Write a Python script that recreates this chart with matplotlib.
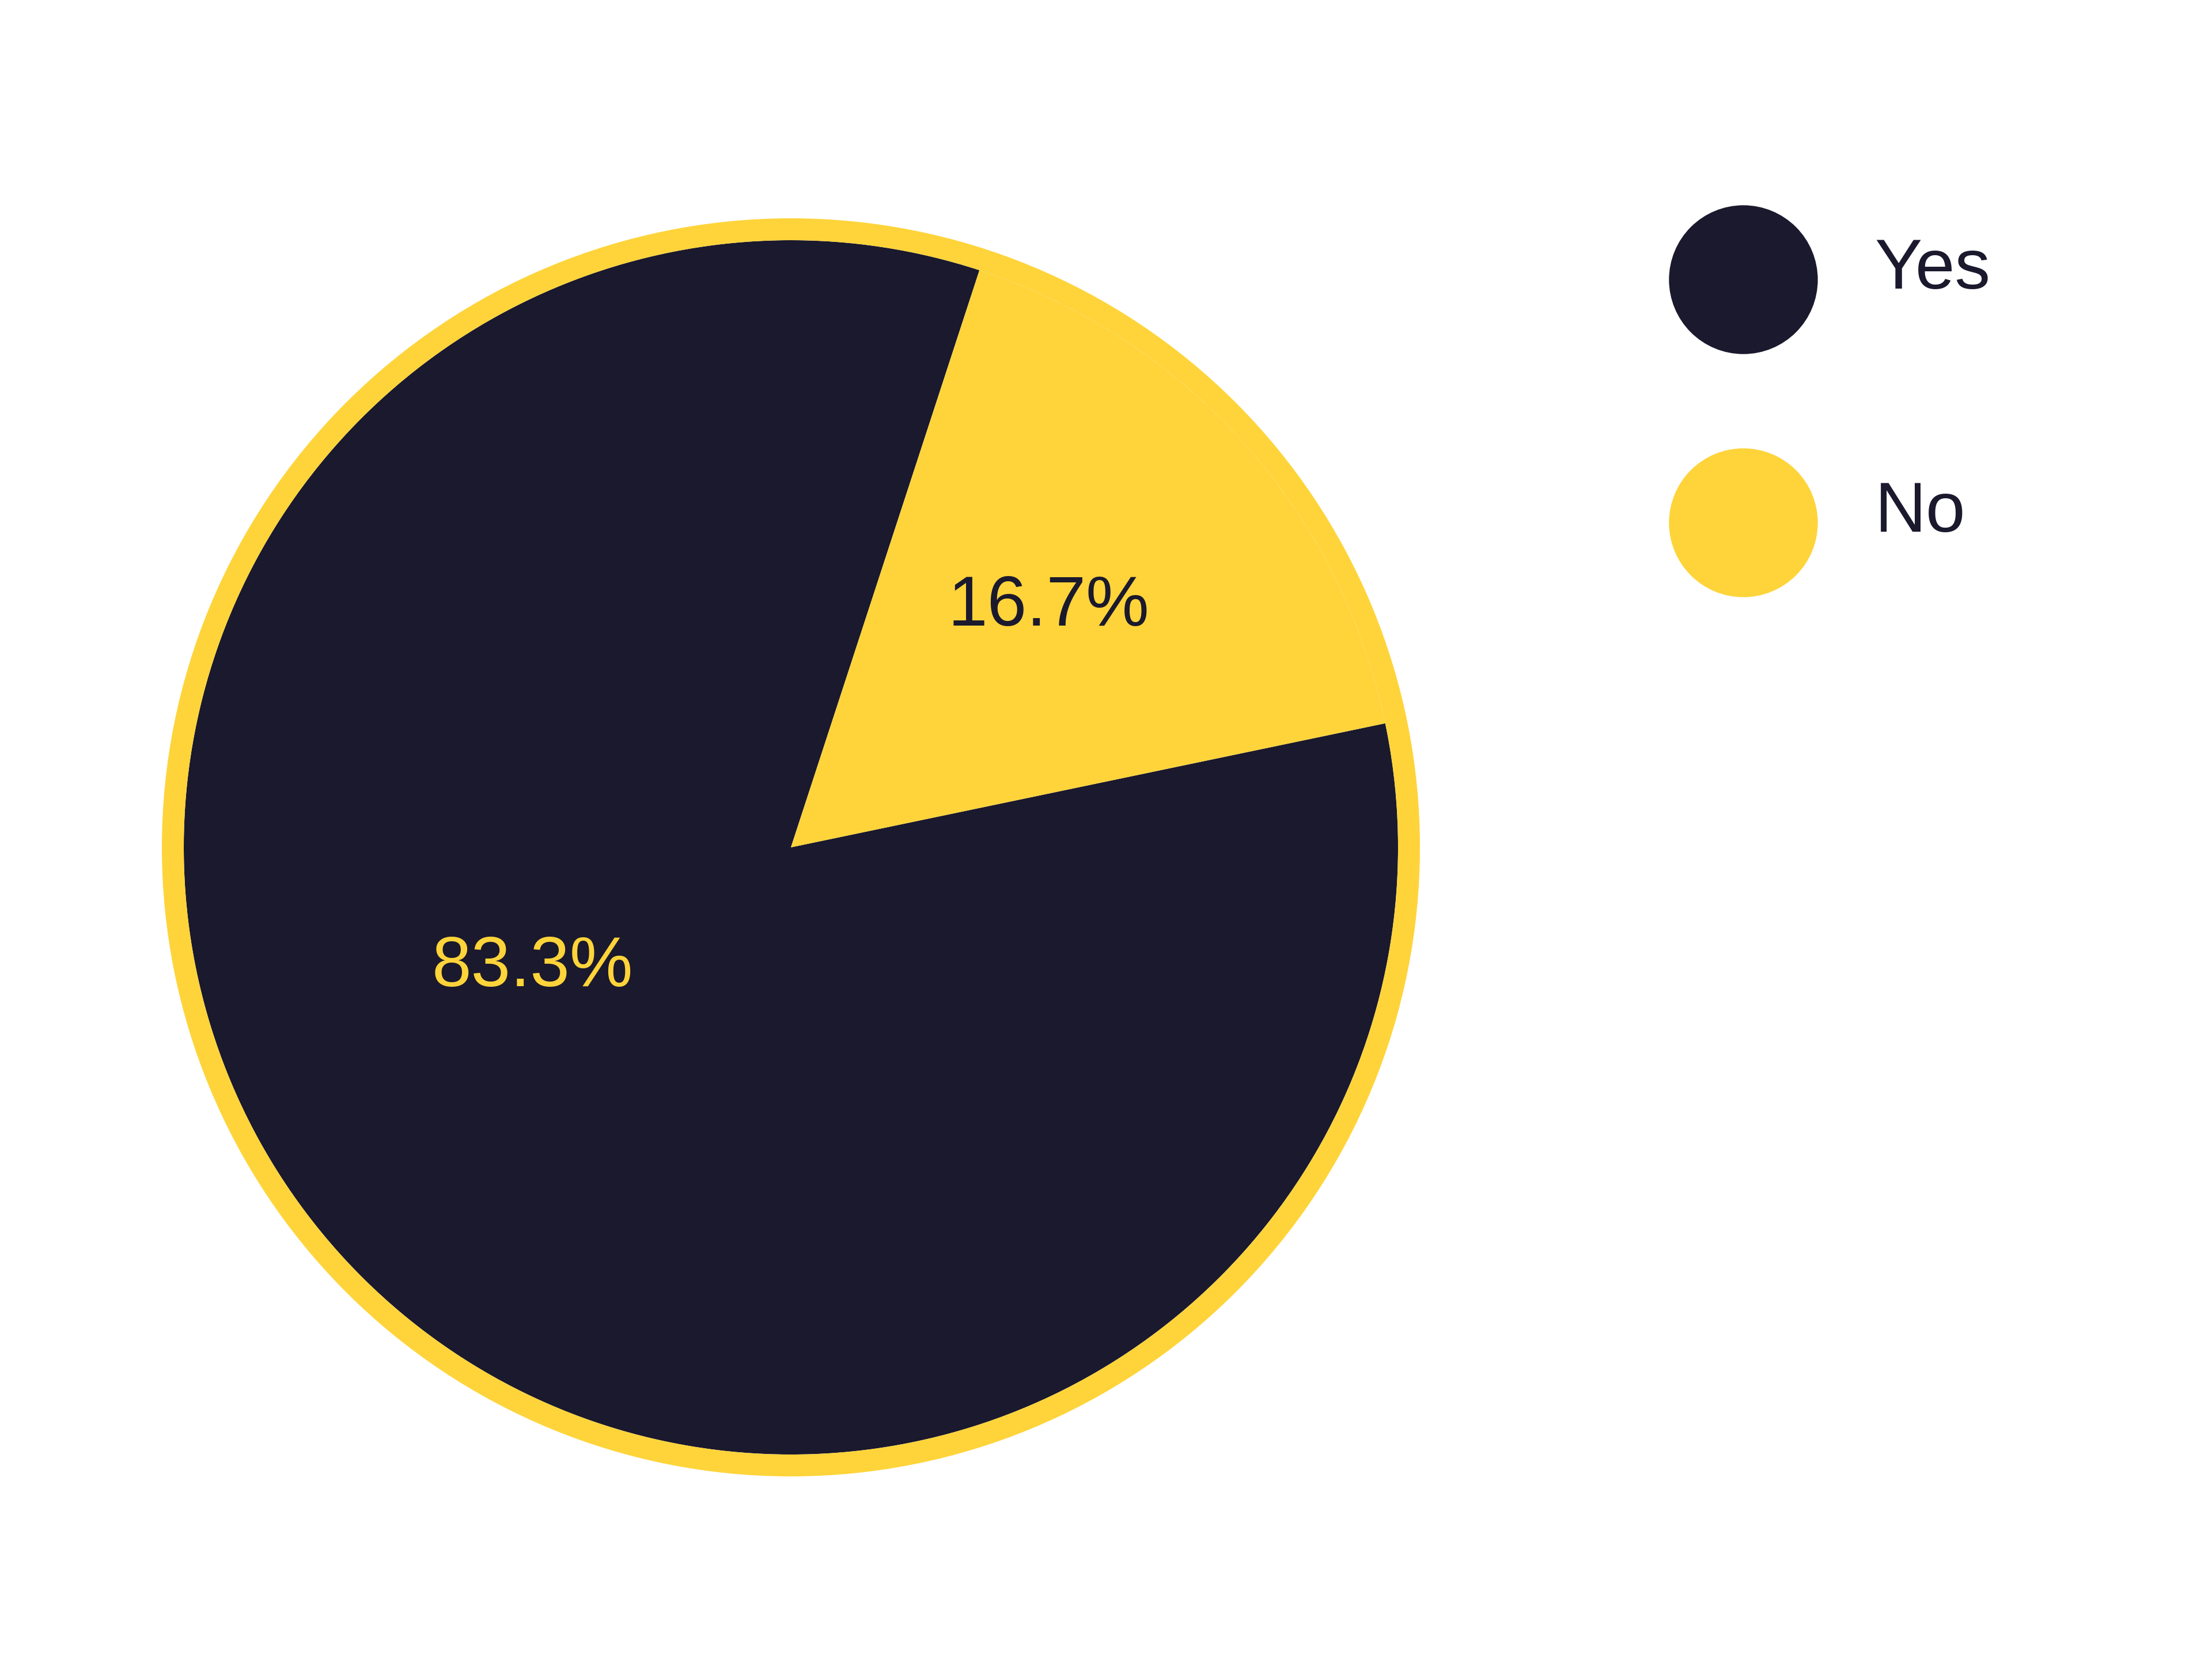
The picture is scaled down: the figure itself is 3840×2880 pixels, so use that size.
import matplotlib
matplotlib.use("Agg")
import matplotlib.pyplot as plt
from matplotlib.lines import Line2D
from matplotlib.patches import Circle
from matplotlib.legend_handler import HandlerLine2D
import numpy as np

plt.rcParams['font.family'] = ['Liberation Sans Narrow', 'Liberation Sans', 'DejaVu Sans']

# ---- data ----
categories = ["Yes", "No"]
values = [83.3, 16.7]
pct_labels = ["83.3%", "16.7%"]

# ---- style ----
NAVY = "#1B192D"
YELLOW = "#FED43A"
slice_colors = [NAVY, YELLOW]
label_colors = [YELLOW, NAVY]
label_polar = [(205.0, 0.47), (43.0, 0.58)]  # (angle deg, radius) for label placement
FONT_W = "normal"

W, H, DPI = 3840, 2880, 240
fig = plt.figure(figsize=(W / DPI, H / DPI), dpi=DPI)
fig.patch.set_facecolor("white")

# pie axes: centre at (1373, 1471) px from top-left, radius 1 = R px
cx, cy, R = 1373, 1471, 1054
half = 1300
ax = fig.add_axes([(cx - half) / W, (H - cy - half) / H, 2 * half / W, 2 * half / H])

no_center = 41.85
start = no_center + values[1] / 100 * 180
wedges, _ = ax.pie(values, colors=slice_colors, startangle=start, radius=1.0,
                   wedgeprops=dict(linewidth=0), center=(0, 0), frame=False)
ax.set_xlim(-half / R, half / R)
ax.set_ylim(-half / R, half / R)
ax.set_aspect("equal")
ax.axis("off")

ring_w_px = 38
ax.add_patch(Circle((0, 0), 1.0 + ring_w_px / 2 / R, fill=False, edgecolor=YELLOW,
                    linewidth=ring_w_px / DPI * 72, zorder=5))

for txt, col, (ang, rr) in zip(pct_labels, label_colors, label_polar):
    a = np.deg2rad(ang)
    ax.text(rr * np.cos(a), rr * np.sin(a), txt, color=col, fontsize=37,
            fontweight=FONT_W, ha="center", va="center", zorder=6)


class ShiftedHandler(HandlerLine2D):
    def __init__(self, dy_pt, **kw):
        super().__init__(**kw)
        self.dy_pt = dy_pt

    def create_artists(self, legend, orig_handle, xdescent, ydescent,
                       width, height, fontsize, trans):
        arts = super().create_artists(legend, orig_handle, xdescent, ydescent,
                                      width, height, fontsize, trans)
        for a in arts:
            a.set_ydata(np.asarray(a.get_ydata()) - self.dy_pt)
        return arts


# legend
ms = 255 / DPI * 72
handles = [Line2D([], [], marker="o", linestyle="none", markersize=ms,
                  markerfacecolor=c, markeredgecolor=c) for c in slice_colors]
leg = fig.legend(handles, categories, loc="upper left",
                 bbox_to_anchor=(2903 / W, 1 - 412 / H), frameon=False,
                 prop=dict(size=37, weight=FONT_W),
                 handlelength=2.0, handletextpad=0.85,
                 labelspacing=2.50, borderpad=0, borderaxespad=0,
                 handler_map={Line2D: ShiftedHandler(8.0)})
for t in leg.get_texts():
    t.set_color(NAVY)

fig.savefig("out.png", dpi=DPI, facecolor="white")
